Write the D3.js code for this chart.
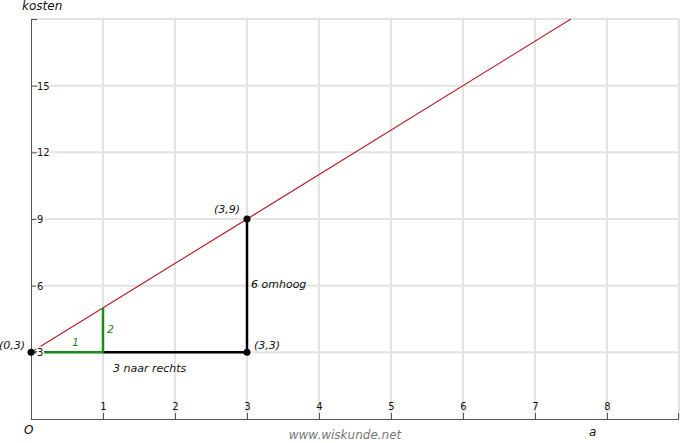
<!DOCTYPE html>
<html><head><meta charset="utf-8">
<script src="https://cdn.jsdelivr.net/npm/d3@7"></script>
<style>body{margin:0;background:#fff}svg{display:block}text{font-family:"DejaVu Sans",Verdana,sans-serif}</style>
</head><body>
<svg id="c" width="681" height="443"></svg>
<script>
// data
const xTicks = [1,2,3,4,5,6,7,8];
const xGrid = [1,2,3,4,5,6,7,8,9];
const yTicks = [3,6,9,12,15];
const yGrid = [3,6,9,12,15,18];
const lineA = [0, 7.5];           // a-range of the cost line
const slope = 2, intercept = 3;   // kosten = 2a + 3
const greenSteps = [[0,3],[1,3],[1,5]];
const blackSteps = [[1,3],[3,3],[3,9]];
const points = [{a:0,k:3,label:"(0,3)"},{a:3,k:3,label:"(3,3)"},{a:3,k:9,label:"(3,9)"}];

const svg = d3.select("#c");
const x = d3.scaleLinear().domain([0,9]).range([31,679]);
const y = d3.scaleLinear().domain([0,18]).range([419,19]);

// grid
svg.append("g").selectAll("line").data(xGrid).join("line")
  .attr("x1",d=>x(d)).attr("x2",d=>x(d)).attr("y1",y(0)).attr("y2",y(18))
  .attr("stroke","#e3e3e3").attr("stroke-width",2);
svg.append("g").selectAll("line").data(yGrid).join("line")
  .attr("x1",x(0)).attr("x2",x(9)).attr("y1",d=>y(d)).attr("y2",d=>y(d))
  .attr("stroke","#e3e3e3").attr("stroke-width",2);

// axes
const axCol = "#555";
svg.append("line").attr("x1",x(0)).attr("x2",x(9)).attr("y1",y(0)+0.5).attr("y2",y(0)+0.5).attr("stroke",axCol);
svg.append("line").attr("x1",x(0)+0.5).attr("x2",x(0)+0.5).attr("y1",y(0)).attr("y2",y(18)).attr("stroke",axCol);
// end ticks
svg.append("line").attr("x1",x(0)).attr("x2",x(0)+6).attr("y1",y(18)+0.5).attr("y2",y(18)+0.5).attr("stroke",axCol);
svg.append("line").attr("x1",x(9)-0.5).attr("x2",x(9)-0.5).attr("y1",y(0)).attr("y2",y(0)-6).attr("stroke",axCol);

// x ticks
const xt = svg.append("g").selectAll("g").data(xTicks).join("g");
xt.append("line").attr("x1",d=>x(d)+0.5).attr("x2",d=>x(d)+0.5).attr("y1",y(0)).attr("y2",y(0)-6).attr("stroke",axCol);
xt.append("text").attr("x",d=>x(d)+0.5).attr("y",y(0)-9).attr("text-anchor","middle")
  .attr("font-size",10).attr("fill","#111").text(d=>d);

// cost line
svg.append("line").attr("x1",x(lineA[0])).attr("y1",y(slope*lineA[0]+intercept))
  .attr("x2",x(lineA[1])).attr("y2",y(slope*lineA[1]+intercept))
  .attr("stroke","#b8232a").attr("stroke-width",1.2);

const lg = d3.line().x(d=>x(d[0])).y(d=>y(d[1]));
svg.append("path").attr("d",lg(blackSteps)).attr("fill","none").attr("stroke","#000").attr("stroke-width",2.5);
svg.append("path").attr("d",lg(greenSteps)).attr("fill","none").attr("stroke","#1a8a1a").attr("stroke-width",2.5);

// y ticks
const yt = svg.append("g").selectAll("g").data(yTicks).join("g");
yt.append("line").attr("x1",x(0)).attr("x2",x(0)+6).attr("y1",d=>y(d)+0.5).attr("y2",d=>y(d)+0.5).attr("stroke",axCol);
yt.append("text").attr("x",x(0)+6).attr("y",d=>y(d)+4).attr("font-size",10).attr("fill","#111")
  .attr("stroke","#fff").attr("stroke-width",3).attr("paint-order","stroke").text(d=>d);

// points
svg.append("g").selectAll("circle").data(points).join("circle")
  .attr("cx",d=>x(d.a)).attr("cy",d=>y(d.k)).attr("r",3.5).attr("fill","#000");

// annotations
function t(px,py,s,opt={}){
  return svg.append("text").attr("x",px).attr("y",py).attr("font-size",opt.size||11)
    .attr("font-style",opt.italic===false?"normal":"italic").attr("fill",opt.fill||"#111")
    .attr("text-anchor",opt.anchor||"start").text(s);
}
t(x(0)-6,349,points[0].label,{anchor:"end"});
t(x(3)+7,349,points[1].label);
t(x(3)-7,213,points[2].label,{anchor:"end"});
t(72,346,"1",{fill:"#1a8a1a"});
t(107,333,"2",{fill:"#1a8a1a"});
t(113,372,"3 naar rechts");
t(251,288,"6 omhoog");
t(22,10,"kosten",{size:12});
t(24,434,"O",{size:12});
t(589,436,"a",{size:12});
t(345,439,"www.wiskunde.net",{size:12,fill:"#777",anchor:"middle"});
</script>
</body></html>
